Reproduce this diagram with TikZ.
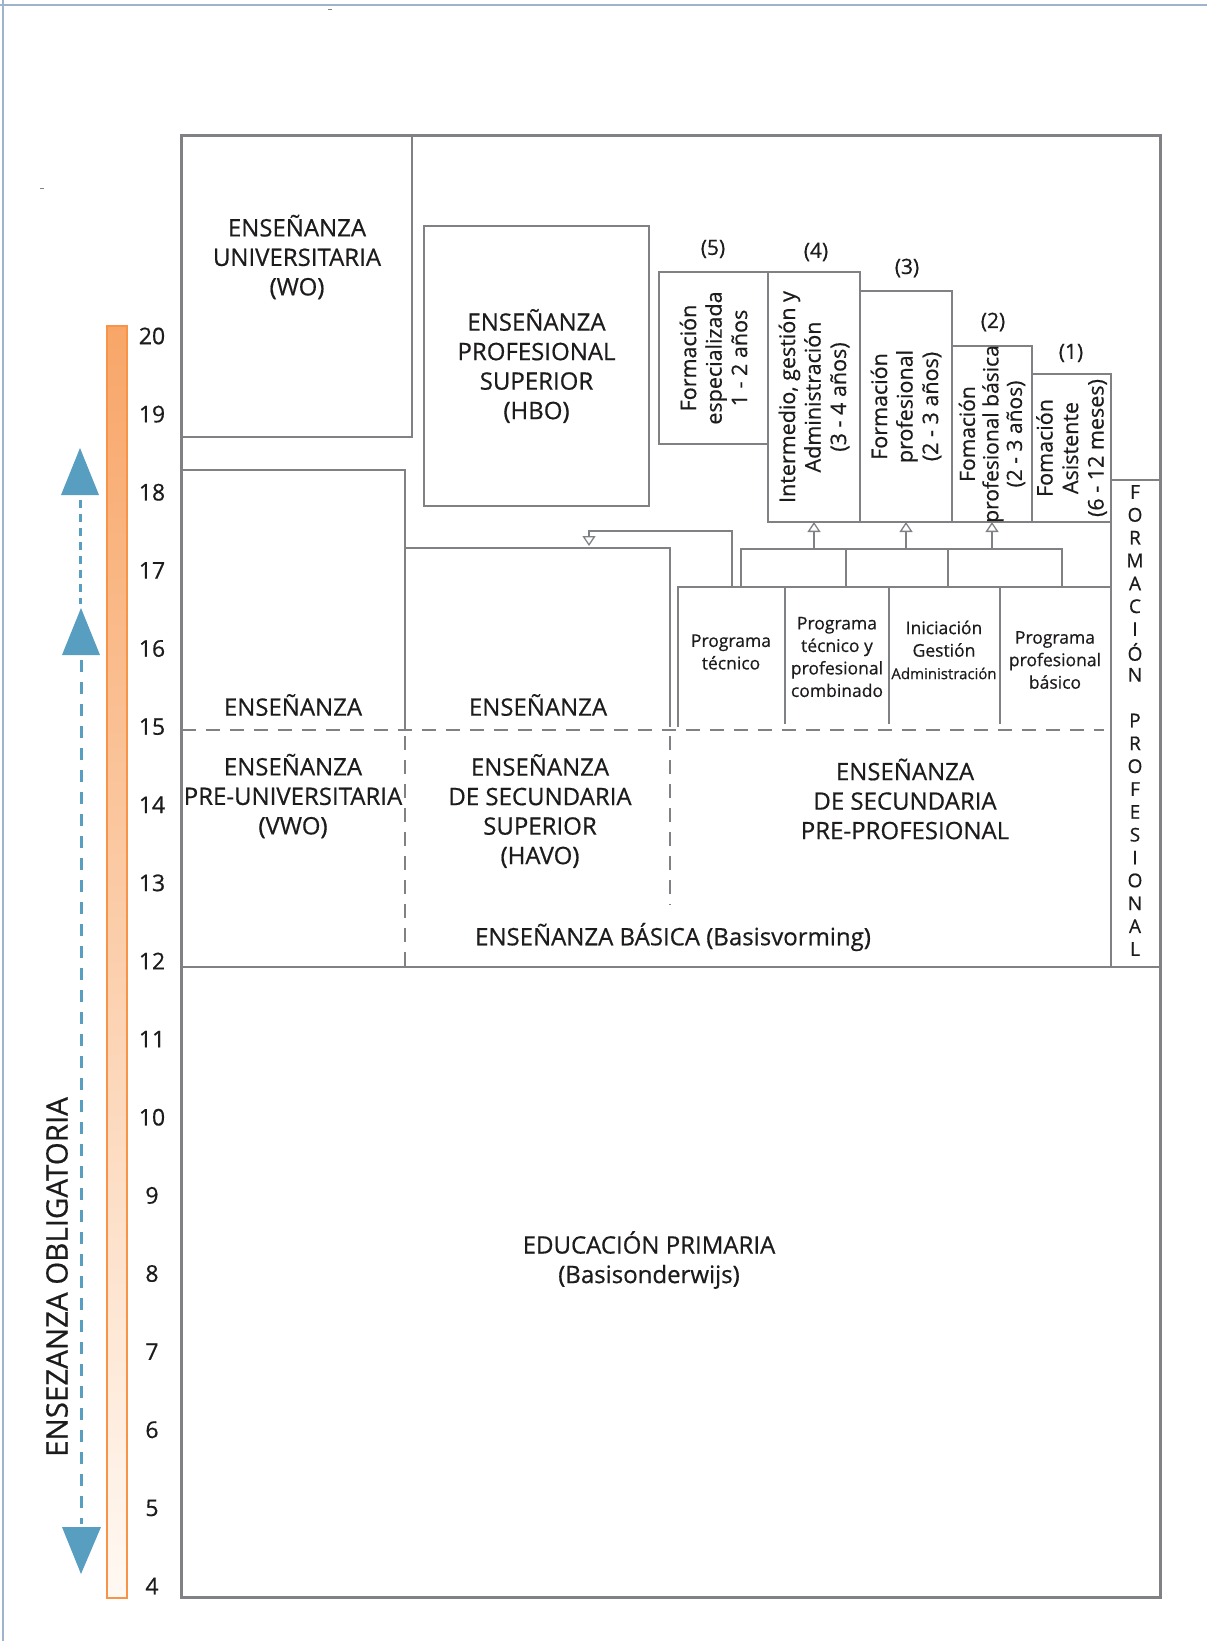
\documentclass[tikz,border=0pt]{standalone}
\usepackage{fontspec}
\setmainfont{Open Sans}[FakeBold=0.6]
\usetikzlibrary{arrows.meta}
\definecolor{lineg}{RGB}{128,129,132}
\definecolor{txt}{RGB}{30,27,28}
\definecolor{agebl}{RGB}{88,158,192}
\definecolor{pageb}{RGB}{157,180,204}
\definecolor{orgtop}{RGB}{248,166,104}
\definecolor{orgbot}{RGB}{255,249,243}
\definecolor{orgline}{RGB}{247,148,72}
\begin{document}
\begin{tikzpicture}[x=1pt,y=-1pt,
  frame/.style={draw=lineg,line width=3pt},
  wall/.style={draw=lineg,line width=2.8pt},
  dashwall/.style={draw=lineg,line width=2.8pt,dash pattern=on 14pt off 10pt},
  tbox/.style={draw=lineg,line width=2.8pt,inner sep=0pt,outer sep=0pt},
  big/.style={font=\fontsize{24}{29.5}\selectfont,text=txt,align=center,inner sep=0pt},
  rot/.style={font=\fontsize{21.5}{25.5}\selectfont,text=txt,align=center,inner sep=0pt,rotate=90},
  num/.style={font=\fontsize{21}{25}\selectfont,text=txt,inner sep=0pt},
  prog/.style={font=\fontsize{17.5}{22.5}\selectfont,text=txt,align=center,inner sep=0pt},
  conn/.style={draw=lineg,line width=2.4pt},
  uptip/.style={conn,-{Triangle[open,width=13pt,length=10pt,line width=1.3pt]}},
  age/.style={font=\fontsize{23}{26}\selectfont,text=txt,inner sep=0pt},
  fpl/.style={font=\fontsize{19}{22}\selectfont,text=txt,inner sep=0pt}]
\useasboundingbox (0,0) rectangle (1207,1641);

% page rules and stray marks
\draw[pageb,line width=2pt] (0,5) -- (1207,5);
\draw[pageb,line width=2pt] (3,0) -- (3,1641);
\draw[lineg,line width=1pt] (328,9) -- (332,9);
\draw[lineg,line width=1pt] (40,188) -- (44,188);

% outer frame
\draw[frame] (181,135) rectangle (1160,1597);

% university block
\draw[wall] (412,135) -- (412,437) -- (181,437);
% pre-university column
\draw[wall] (181,470) -- (405,470) -- (405,730);
\draw[dashwall] (405,736) -- (405,967);
% HAVO column
\draw[wall] (405,548) -- (670,548) -- (670,727);
\draw[dashwall] (670,736) -- (670,905);
% level 15 boundary
\draw[dashwall] (182,730) -- (1104,730);
% primary education boundary
\draw[wall] (181,967) -- (1160,967);

% HBO box
\node[tbox,minimum width=225pt,minimum height=280pt] (hbo) at (536.5,366) {};

% vocational boxes (5) .. (1)
\node[tbox,minimum width=109pt,minimum height=172pt] (b5) at (713.5,358) {};
\node[tbox,minimum width=92pt,minimum height=250pt] (b4) at (814,397) {};
\node[tbox,minimum width=92pt,minimum height=231pt] (b3) at (906,406.5) {};
\node[tbox,minimum width=80pt,minimum height=176pt] (b2) at (992,434) {};
\node[tbox,minimum width=79pt,minimum height=148pt] (b1) at (1071.5,448) {};

% vocational training column
\draw[wall] (1111,522) -- (1111,967);
\draw[wall] (1111,480) -- (1160,480);

% programme row
\draw[wall] (678,727) -- (678,587) -- (1111,587);
\draw[wall] (785,587) -- (785,724);
\draw[wall] (889,587) -- (889,724);
\draw[wall] (1000,587) -- (1000,724);

% connectors
\coordinate (d1) at (741,587);
\coordinate (d2) at (846,587);
\coordinate (d3) at (948,587);
\coordinate (d4) at (1062,587);
\coordinate (busL) at (741,549);
\coordinate (busR) at (1062,549);
\draw[conn] (d1) -- (busL) -- (busR) -- (d4);
\draw[conn] (d2) -- (d2 |- busL);
\draw[conn] (d3) -- (d3 |- busL);
\draw[uptip] (b4.south |- busL) -- (b4.south);
\draw[uptip] (b3.south |- busL) -- (b3.south);
\draw[uptip] (b2.south |- busL) -- (b2.south);
\coordinate (h1) at (732,587);
\coordinate (h2) at (732,531);
\coordinate (h3) at (589,531);
\coordinate (h4) at (589,546);
\draw[uptip] (h1) -- (h2) -- (h3) -- (h4);

% box texts
\node[big] (wo) at (297,257) {ENSEÑANZA\\UNIVERSITARIA\\(WO)};
\node[big] (hbot) at (hbo.center) {ENSEÑANZA\\PROFESIONAL\\SUPERIOR\\(HBO)};
\node[num] (n5) at (713,249) {(5)};
\node[num] (n4) at (816,252) {(4)};
\node[num] (n3) at (907,268) {(3)};
\node[num] (n2) at (993,322) {(2)};
\node[num] (n1) at (1071,353) {(1)};
\node[rot] (t5) at (b5.center) {Formación\\especializada\\1 - 2 años};
\node[rot] (t4) at (b4.center) {Intermedio, gestión y\\Administración\\(3 - 4 años)};
\node[rot] (t3) at (b3.center) {Formación\\profesional\\(2 - 3 años)};
\node[rot,font=\fontsize{21}{23.5}\selectfont] (t2) at (b2.center) {Fomación\\profesional básica\\(2 - 3 años)};
\node[rot] (t1) at (b1.center) {Fomación\\Asistente\\(6 - 12 meses)};

\node[prog] (p1) at (731,652) {Programa\\técnico};
\node[prog] (p2) at (837,657) {Programa\\técnico y\\profesional\\combinado};
\node[prog] (p3) at (944,650) {Iniciación\\Gestión\\{\fontsize{15}{18}\selectfont Administración}};
\node[prog] (p4) at (1055,660) {Programa\\profesional\\básico};

\node[big] (e1) at (293,705) {ENSEÑANZA};
\node[big] (e2) at (538,705) {ENSEÑANZA};
\node[big] (vwo) at (293,796) {ENSEÑANZA\\PRE-UNIVERSITARIA\\(VWO)};
\node[big] (havo) at (540,811) {ENSEÑANZA\\DE SECUNDARIA\\SUPERIOR\\(HAVO)};
\node[big] (vmbo) at (905,799) {ENSEÑANZA\\DE SECUNDARIA\\PRE-PROFESIONAL};
\node[big] (basis) at (673,937) {ENSEÑANZA BÁSICA (Basisvorming)};
\node[big] (prim) at (649,1260) {EDUCACIÓN PRIMARIA\\(Basisonderwijs)};

% vertical caption of the training column
\foreach \c/\i in {F/0,O/1,R/2,M/3,A/4,C/5,I/6,Ó/7,N/8,P/10,R/11,O/12,F/13,E/14,S/15,I/16,O/17,N/18,A/19,L/20}
  \node[fpl] (fp\i) at (1135,{492+\i*22.85}) {\c};

% age scale
\shade[top color=orgtop,bottom color=orgbot] (107,326) rectangle (127,1598);
\draw[orgline,line width=1.2pt] (107,326) rectangle (127,1598);
\foreach \a in {4,...,20}
  \node[age] (age\a) at (152,{336+(20-\a)*78.125}) {\a};

% compulsory schooling arrows
\coordinate (u1) at (80,448);
\coordinate (u2) at (81,608);
\coordinate (dn) at (81,1574);
\fill[agebl] (u1) -- (61,495) -- (99,495) -- cycle;
\fill[agebl] (u2) -- (62,655) -- (100,655) -- cycle;
\fill[agebl] (dn) -- (62,1527) -- (101,1527) -- cycle;
\draw[agebl,line width=3pt,dash pattern=on 8pt off 6pt] (80,500) -- (80,604);
\draw[agebl,line width=3pt,dash pattern=on 12pt off 10pt] (81,660) -- (81,1524);
\node[big,font=\fontsize{29.5}{32}\selectfont,rotate=90] (oblig) at (57,1277) {ENSEZANZA OBLIGATORIA};
\end{tikzpicture}
\end{document}
